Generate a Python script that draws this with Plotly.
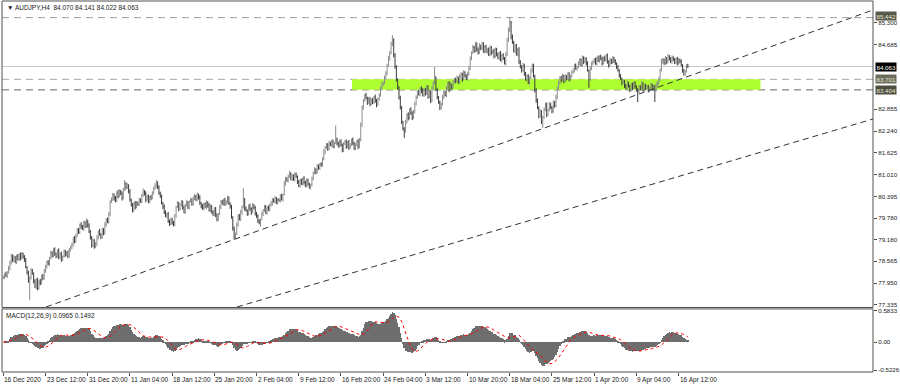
import numpy as np
import pandas as pd
import plotly.graph_objects as go

# ---------------- data (prices in 0.01 JPY) ----------------
first_open = 7810
close_c = [
    7812, 7820, 7815, 7826, 7838, 7850, 7872, 7860, 7868, 7855, 7870, 7862, 7875, 7866, 7878, 7870,
    7860, 7840, 7825, 7800, 7810, 7830, 7822, 7800, 7785, 7805, 7780, 7800, 7795, 7815, 7808, 7830,
    7840, 7855, 7850, 7865, 7880, 7872, 7890, 7878, 7870, 7885, 7868, 7878, 7862, 7870, 7885, 7875,
    7880, 7870, 7890, 7895, 7905, 7920, 7912, 7930, 7945, 7938, 7960, 7955, 7948, 7965, 7955, 7970,
    7958, 7940, 7925, 7900, 7915, 7898, 7905, 7925, 7940, 7932, 7925, 7945, 7935, 7960, 7975, 7968,
    7990, 8025, 8030, 8045, 8035, 8028, 8050, 8040, 8055, 8048, 8035, 8060, 8075, 8065, 8070, 8055,
    8030, 8015, 8000, 8020, 8010, 8022, 8018, 8030, 8025, 8042, 8055, 8048, 8030, 8040, 8025, 8038,
    8035, 8050, 8062, 8070, 8078, 8065, 8050, 8040, 8020, 8010, 7995, 7985, 7990, 7970, 7962, 7975,
    7965, 7960, 7985, 8010, 8020, 8005, 8015, 8025, 8008, 7995, 8015, 8022, 8010, 8025, 8030, 8018,
    8035, 8040, 8030, 8045, 8038, 8020, 8012, 8005, 8018, 8010, 8022, 8015, 8000, 8012, 7995, 7990,
    8005, 7985, 7975, 7990, 8010, 8025, 8020, 8030, 8018, 8025, 8035, 8020, 8010, 7980, 7950, 7925,
    7935, 7960, 7985, 7975, 7995, 8010, 8030, 8005, 8000, 7990, 8012, 8005, 7995, 8015, 8008, 7990,
    7985, 7970, 7965, 7975, 7990, 8000, 8010, 7995, 8008, 8002, 8015, 8020, 8030, 8025, 8035, 8022,
    8030, 8028, 8040, 8032, 8045, 8075, 8090, 8085, 8095, 8105, 8090, 8098, 8088, 8102, 8095, 8080,
    8070, 8085, 8075, 8090, 8080, 8070, 8085, 8075, 8065, 8072, 8090, 8105, 8115, 8108, 8125, 8120,
    8130, 8128, 8145, 8165, 8178, 8185, 8175, 8190, 8185, 8195, 8180, 8190, 8200, 8190, 8182, 8195,
    8185, 8170, 8188, 8195, 8180, 8192, 8178, 8185, 8200, 8190, 8175, 8185, 8195, 8180, 8200, 8240,
    8290, 8310, 8325, 8318, 8305, 8315, 8300, 8312, 8305, 8320, 8310, 8298, 8315, 8325, 8345, 8355,
    8360, 8375, 8385, 8410, 8430, 8445, 8470, 8480, 8440, 8405, 8370, 8345, 8320, 8290, 8250, 8230,
    8225, 8250, 8270, 8260, 8285, 8275, 8262, 8280, 8300, 8320, 8335, 8328, 8345, 8338, 8325, 8340,
    8330, 8350, 8320, 8335, 8310, 8345, 8360, 8375, 8340, 8320, 8305, 8290, 8300, 8320, 8335, 8325,
    8345, 8360, 8340, 8355, 8348, 8362, 8370, 8365, 8375, 8362, 8378, 8385, 8370, 8390, 8380, 8372,
    8385, 8400, 8430, 8445, 8460, 8450, 8470, 8455, 8445, 8465, 8458, 8470, 8450, 8462, 8448, 8455,
    8440, 8460, 8445, 8450, 8435, 8455, 8440, 8430, 8445, 8425, 8438, 8430, 8415, 8440, 8480, 8510,
    8530, 8490, 8475, 8450, 8465, 8440, 8455, 8420, 8405, 8395, 8410, 8385, 8370, 8380, 8360, 8375,
    8395, 8410, 8380, 8340, 8310, 8290, 8265, 8280, 8250, 8262, 8285, 8300, 8270, 8285, 8300, 8290,
    8280, 8305, 8295, 8320, 8345, 8360, 8375, 8368, 8380, 8365, 8378, 8372, 8385, 8370, 8380, 8390,
    8395, 8410, 8400, 8405, 8415, 8425, 8410, 8432, 8420, 8428, 8415, 8395, 8370, 8400, 8415, 8420,
    8425, 8415, 8430, 8422, 8435, 8428, 8415, 8430, 8425, 8438, 8420, 8410, 8425, 8418, 8430, 8422,
    8415, 8405, 8395, 8380, 8372, 8360, 8365, 8352, 8345, 8360, 8350, 8340, 8355, 8345, 8360, 8350,
    8340, 8335, 8350, 8345, 8358, 8340, 8352, 8345, 8350, 8338, 8345, 8355, 8342, 8350, 8340, 8355,
    8360, 8370, 8395, 8420, 8425, 8415, 8430, 8420, 8435, 8428, 8420, 8432, 8425, 8418, 8428, 8415,
    8425, 8420, 8410, 8395, 8385, 8392, 8407, 8406.3,
]
upper_wick = [
    5, 4, 7, 3, 6, 8, 5, 4, 6, 3, 5, 7, 4, 6, 5, 3,
    4, 6, 3, 5, 4, 7, 5, 3, 6, 4, 5, 3, 7, 4, 6, 5,
    6, 3, 5, 4, 7, 5, 4, 6, 3, 5, 8, 4, 6, 3, 5, 4,
    5, 7, 4, 6, 3, 5, 8, 4, 6, 5, 3, 7, 4, 6, 5, 8,
    4, 6, 5, 3, 7, 4, 6, 5, 3, 8, 4, 6, 5, 7, 3, 5,
    6, 4, 7, 5, 3, 6, 4, 8, 5, 3, 6, 4, 11, 5, 7, 4,
    5, 3, 6, 4, 7, 5, 3, 6, 4, 5, 7, 3, 6, 4, 5, 3,
    6, 4, 5, 7, 8, 4, 6, 3, 5, 4, 7, 5, 3, 6, 4, 5,
    4, 6, 5, 3, 7, 4, 6, 5, 3, 6, 4, 7, 5, 3, 6, 4,
    5, 7, 4, 6, 3, 5, 4, 6, 3, 5, 7, 4, 6, 5, 3, 6,
    4, 5, 7, 3, 6, 4, 5, 3, 6, 4, 7, 5, 3, 6, 4, 5,
    3, 6, 4, 5, 7, 4, 33, 5, 6, 3, 5, 7, 4, 6, 3, 5,
    6, 4, 5, 3, 7, 4, 6, 5, 3, 6, 4, 7, 5, 4, 6, 3,
    5, 4, 6, 7, 3, 8, 5, 4, 6, 7, 3, 5, 4, 6, 5, 4,
    6, 4, 5, 3, 7, 4, 6, 5, 3, 4, 6, 5, 7, 4, 6, 5,
    4, 6, 5, 8, 4, 6, 5, 7, 4, 6, 5, 3, 40, 6, 4, 5,
    6, 4, 5, 3, 6, 4, 7, 5, 3, 6, 4, 5, 3, 7, 5, 8,
    6, 5, 4, 7, 3, 6, 5, 4, 6, 3, 7, 5, 4, 6, 5, 7,
    5, 6, 8, 4, 6, 5, 7, 15, 6, 4, 5, 3, 6, 4, 5, 3,
    5, 6, 4, 7, 3, 6, 5, 4, 7, 5, 3, 6, 4, 5, 7, 4,
    6, 5, 3, 7, 4, 6, 5, 30, 4, 6, 3, 5, 4, 6, 5, 3,
    6, 4, 5, 7, 3, 6, 4, 5, 6, 3, 7, 5, 4, 6, 3, 5,
    6, 8, 5, 4, 7, 5, 6, 4, 5, 7, 3, 6, 5, 4, 6, 3,
    5, 6, 4, 3, 7, 5, 4, 6, 3, 5, 4, 6, 3, 7, 8, 6,
    16, 5, 7, 4, 6, 5, 3, 6, 4, 5, 7, 4, 6, 3, 5, 4,
    6, 5, 4, 3, 5, 6, 4, 7, 3, 5, 6, 4, 5, 3, 6, 4,
    5, 6, 4, 7, 5, 6, 4, 5, 6, 3, 7, 4, 5, 6, 3, 5,
    6, 4, 5, 3, 7, 5, 4, 6, 3, 5, 4, 6, 3, 7, 5, 4,
    5, 6, 4, 7, 3, 5, 6, 4, 7, 3, 5, 4, 6, 3, 5, 4,
    5, 3, 6, 4, 5, 3, 6, 4, 5, 7, 3, 5, 4, 6, 3, 5,
    4, 6, 5, 3, 7, 4, 5, 6, 3, 5, 4, 6, 3, 5, 4, 6,
    5, 7, 6, 8, 5, 4, 6, 3, 7, 4, 5, 6, 3, 5, 4, 6,
    5, 4, 6, 3, 5, 4, 6, 7.1,
]
lower_wick = [
    4, 6, 3, 5, 4, 7, 3, 6, 5, 4, 6, 3, 5, 7, 4, 6,
    5, 3, 6, 4, 53, 5, 3, 6, 4, 7, 5, 3, 6, 4, 5, 3,
    6, 4, 5, 7, 3, 5, 4, 6, 5, 3, 6, 4, 7, 5, 3, 6,
    4, 5, 3, 6, 4, 7, 5, 3, 6, 4, 5, 7, 3, 6, 4, 5,
    6, 4, 7, 5, 3, 6, 4, 5, 7, 3, 6, 4, 5, 3, 6, 4,
    5, 6, 4, 3, 7, 5, 4, 6, 3, 5, 7, 4, 5, 6, 4, 7,
    5, 4, 6, 3, 7, 4, 5, 6, 3, 5, 4, 6, 7, 3, 5, 4,
    6, 3, 5, 4, 7, 5, 6, 4, 3, 6, 5, 4, 7, 5, 6, 3,
    5, 5, 4, 6, 3, 7, 5, 4, 6, 3, 5, 4, 6, 7, 3, 5,
    4, 6, 3, 5, 7, 4, 6, 3, 5, 4, 6, 7, 3, 5, 4, 6,
    5, 4, 6, 5, 3, 6, 4, 7, 5, 3, 6, 4, 5, 3, 7, 6,
    5, 4, 6, 3, 5, 7, 4, 6, 3, 5, 4, 6, 7, 3, 5, 4,
    6, 5, 4, 11, 3, 6, 4, 5, 7, 3, 5, 4, 6, 3, 5, 4,
    5, 3, 6, 4, 7, 3, 5, 4, 6, 3, 5, 7, 4, 6, 3, 5,
    4, 6, 3, 5, 7, 4, 6, 5, 3, 6, 4, 5, 3, 6, 4, 5,
    6, 4, 5, 3, 6, 4, 7, 5, 3, 6, 4, 5, 3, 6, 4, 5,
    4, 6, 5, 3, 6, 4, 7, 5, 3, 6, 4, 5, 3, 7, 4, 5,
    4, 6, 3, 5, 7, 4, 6, 3, 5, 4, 6, 7, 3, 5, 4, 6,
    5, 4, 6, 3, 5, 7, 4, 6, 8, 5, 6, 4, 7, 5, 6, 4,
    20, 5, 4, 6, 3, 5, 7, 4, 6, 3, 5, 4, 6, 7, 3, 5,
    6, 4, 5, 3, 7, 4, 6, 5, 3, 6, 4, 7, 5, 4, 6, 3,
    5, 4, 6, 3, 7, 5, 4, 6, 3, 5, 4, 6, 7, 3, 5, 4,
    6, 5, 4, 6, 3, 5, 4, 7, 5, 3, 6, 4, 5, 7, 3, 6,
    4, 5, 7, 3, 6, 4, 5, 3, 6, 4, 7, 5, 3, 6, 4, 5,
    6, 7, 5, 4, 6, 3, 5, 7, 4, 6, 3, 5, 4, 6, 3, 5,
    4, 6, 5, 7, 6, 4, 5, 3, 6, 17, 4, 5, 7, 3, 5, 4,
    6, 4, 5, 3, 6, 4, 5, 7, 3, 6, 4, 5, 3, 6, 4, 5,
    4, 6, 3, 5, 4, 6, 3, 5, 7, 4, 6, 3, 24, 5, 4, 6,
    5, 4, 6, 3, 5, 4, 6, 3, 5, 4, 6, 7, 3, 5, 4, 6,
    4, 6, 3, 5, 4, 7, 3, 6, 4, 5, 3, 6, 4, 5, 3, 6,
    5, 29, 4, 6, 3, 5, 4, 6, 3, 5, 4, 6, 3, 5, 34, 4,
    6, 4, 5, 3, 6, 4, 5, 7, 3, 5, 4, 6, 3, 5, 4, 6,
    4, 5, 3, 6, 4, 5, 3, 4.1,
]

time_tick_index = [0, 32, 64, 96, 128, 160, 192, 224, 256, 288, 320, 352, 384, 416, 448, 480, 512]
time_tick_text = ["16 Dec 2020", "23 Dec 12:00", "31 Dec 20:00", "11 Jan 04:00", "18 Jan 12:00",
                  "25 Jan 20:00", "2 Feb 04:00", "9 Feb 12:00", "16 Feb 20:00", "24 Feb 04:00",
                  "3 Mar 12:00", "10 Mar 20:00", "18 Mar 04:00", "25 Mar 12:00", "1 Apr 20:00",
                  "9 Apr 04:00", "16 Apr 12:00"]
price_ticks = [85.300, 84.685, 82.855, 82.240, 81.625, 81.010, 80.395, 79.780, 79.180,
               78.565, 77.950, 77.335]
macd_ticks = [0.5833, 0.0, -0.5226]
macd_tick_text = ["0.5833", "0.00", "-0.5226"]

resistance_level = 85.442
zone_top = 83.701
zone_bottom = 83.404
last_price = 84.063
zone_start_bar, zone_end_bar = 264.4, 574.1
trend_upper = [(32.4, 77.276), (659.4, 85.658)]
trend_lower = [(177.2, 77.276), (659.4, 82.582)]

header_text = "\u25bc AUDJPY,H4  84.070 84.141 84.022 84.063"
macd_text = "MACD(12,26,9) 0.0965 0.1492"

# ---------------- build OHLC + MACD ----------------
c = np.array(close_c, dtype=float) / 100.0
o = np.concatenate([[first_open / 100.0], c[:-1]])
h = np.maximum(o, c) + np.array(upper_wick, dtype=float) / 100.0
l = np.minimum(o, c) - np.array(lower_wick, dtype=float) / 100.0
x = np.arange(len(c))

s = pd.Series(c)
ema12 = s.ewm(span=12, adjust=False).mean()
ema26 = s.ewm(span=26, adjust=False).mean()
macd_main = ema12 - ema26
macd_signal = macd_main.rolling(9, min_periods=1).mean()

FONT = "Liberation Sans"
XR = [-1, 659.4]
Y1 = [77.262, 85.912]
Y2 = [-0.554, 0.62]
MAIN_DOM = [0.1739, 1.0]
MACD_DOM = [0.0, 0.170]

fig = go.Figure()
fig.add_trace(go.Ohlc(
    x=x, open=o, high=h, low=l, close=c,
    increasing=dict(line=dict(color="#8c8c8c", width=1)),
    decreasing=dict(line=dict(color="#3a3a3a", width=1)),
    tickwidth=0.3, xaxis="x", yaxis="y", showlegend=False, hoverinfo="skip"))
fig.add_trace(go.Bar(
    x=x, y=macd_main, marker=dict(color="#6e6e6e", line=dict(width=0)), width=0.5,
    xaxis="x2", yaxis="y2", showlegend=False, hoverinfo="skip"))
fig.add_trace(go.Scatter(
    x=x, y=macd_signal, mode="lines", line=dict(color="#ff0000", width=1, dash="dot"),
    xaxis="x2", yaxis="y2", showlegend=False, hoverinfo="skip"))

shapes = []
shapes.append(dict(type="rect", xref="x", yref="y", x0=zone_start_bar, x1=zone_end_bar,
                   y0=zone_bottom, y1=zone_top, fillcolor="#adff2f", line=dict(width=0), layer="below"))
shapes.append(dict(type="line", xref="paper", yref="y", x0=0, x1=1, y0=resistance_level, y1=resistance_level,
                   line=dict(color="#9a9a9a", width=1, dash="7px,5px"), layer="below"))
shapes.append(dict(type="line", xref="paper", yref="y", x0=0, x1=1, y0=zone_top, y1=zone_top,
                   line=dict(color="#a8a8a8", width=1, dash="7px,5px"), layer="below"))
shapes.append(dict(type="line", xref="paper", yref="y", x0=0, x1=1, y0=zone_bottom, y1=zone_bottom,
                   line=dict(color="#6a6a6a", width=1, dash="7px,5px"), layer="below"))
shapes.append(dict(type="line", xref="paper", yref="y", x0=0, x1=1, y0=last_price, y1=last_price,
                   line=dict(color="#c8c8c8", width=1), layer="below"))
for (a, b) in (trend_upper, trend_lower):
    shapes.append(dict(type="line", xref="x", yref="y", x0=a[0], y0=a[1], x1=b[0], y1=b[1],
                       line=dict(color="#333333", width=1, dash="6px,4px"), layer="above"))
for dom in (MAIN_DOM, MACD_DOM):
    shapes.append(dict(type="rect", xref="paper", yref="paper", x0=0, x1=1, y0=dom[0], y1=dom[1],
                       line=dict(color="#505050", width=1), fillcolor="rgba(0,0,0,0)", layer="above"))

annotations = []
annotations.append(dict(text=header_text, xref="paper", yref="paper", x=0, y=1, xanchor="left",
                        yanchor="top", xshift=3, yshift=-1, showarrow=False,
                        font=dict(family=FONT, size=6.5, color="#202020")))
annotations.append(dict(text=macd_text, xref="paper", yref="paper", x=0, y=MACD_DOM[1], xanchor="left",
                        yanchor="top", xshift=2, yshift=-1, showarrow=False,
                        font=dict(family=FONT, size=6.5, color="#202020")))
for idx, txt in zip(time_tick_index, time_tick_text):
    annotations.append(dict(text=txt, xref="x2", yref="paper", x=idx, y=0, xanchor="left",
                            yanchor="top", xshift=-1, yshift=-2, showarrow=False,
                            font=dict(family=FONT, size=6.5, color="#202020")))
for val, bg, fg, dy in ((resistance_level, "#5a5a4a", "#e6e6da", 2), (last_price, "#000000", "#ffffff", 0),
                        (zone_top, "#6c6c5c", "#e6e6da", 0), (zone_bottom, "#4e4e40", "#e6e6da", 0)):
    annotations.append(dict(text=f"{val:.3f}", xref="paper", yref="y", x=1, y=val, xanchor="left",
                            yanchor="middle", xshift=2, yshift=dy, showarrow=False, bgcolor=bg, borderpad=0.5,
                            font=dict(family=FONT, size=6.2, color=fg)))

axis_common = dict(showgrid=False, zeroline=False, showline=False)
fig.update_layout(
    width=900, height=387, template="none",
    margin=dict(l=2, r=27, t=1, b=15, pad=0),
    paper_bgcolor="white", plot_bgcolor="white",
    showlegend=False, bargap=0,
    xaxis=dict(domain=[0, 1], range=XR, anchor="y", showticklabels=False, ticks="",
               rangeslider=dict(visible=False), **axis_common),
    xaxis2=dict(domain=[0, 1], range=XR, anchor="y2", matches="x", showticklabels=False,
                ticks="outside", tickvals=time_tick_index, ticklen=3, tickcolor="#505050", **axis_common),
    yaxis=dict(domain=MAIN_DOM, range=Y1, anchor="x", side="right", tickvals=price_ticks,
               ticktext=[f"{v:.3f}" for v in price_ticks], ticks="outside", ticklen=3, tickcolor="#505050",
               tickfont=dict(family=FONT, size=6.2, color="#202020"), automargin=False, **axis_common),
    yaxis2=dict(domain=MACD_DOM, range=Y2, anchor="x2", side="right", tickvals=macd_ticks,
                ticktext=macd_tick_text, ticks="outside", ticklen=3, tickcolor="#505050",
                tickfont=dict(family=FONT, size=6.2, color="#202020"), automargin=False, **axis_common),
    shapes=shapes, annotations=annotations,
)

fig.write_html("out.html")
